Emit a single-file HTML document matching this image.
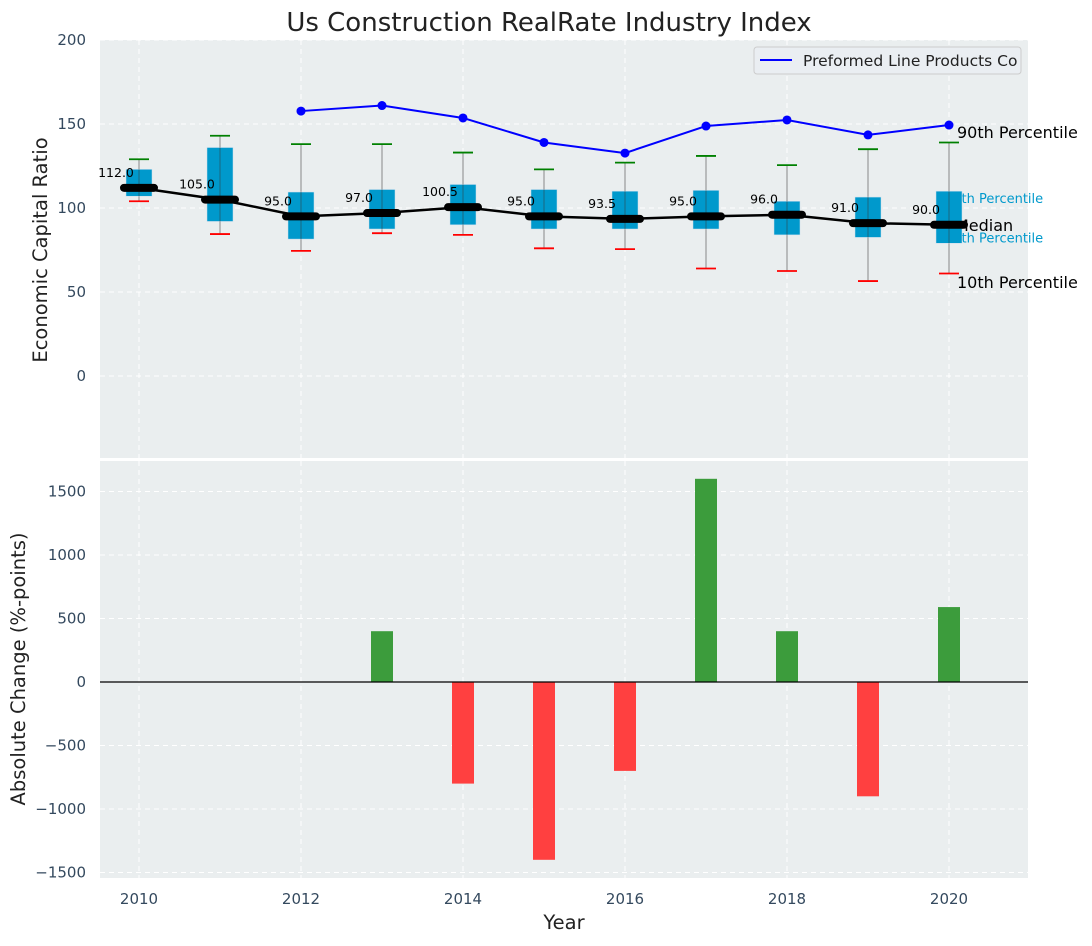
<!DOCTYPE html>
<html><head><meta charset="utf-8"><style>
body{margin:0;background:#fff;font-family:"DejaVu Sans","Liberation Sans",sans-serif;}
svg text{font-family:"DejaVu Sans","Liberation Sans",sans-serif;}
</style></head><body>
<svg id="chart" width="1092" height="942" xmlns="http://www.w3.org/2000/svg">
<text x="549" y="31" text-anchor="middle" font-size="26" fill="#222">Us Construction RealRate Industry Index</text>
<rect x="100" y="40" width="928" height="418" fill="#eaeeef"/>
<rect x="100" y="461" width="928" height="417" fill="#eaeeef"/>
<g id="gtop"></g><g id="gbot"></g>
<text transform="translate(47,250) rotate(-90)" text-anchor="middle" font-size="19.5" fill="#222">Economic Capital Ratio</text>
<text transform="translate(25,669) rotate(-90)" text-anchor="middle" font-size="19.5" fill="#222">Absolute Change (%-points)</text>
<text x="564" y="929" text-anchor="middle" font-size="19.5" fill="#222">Year</text>
<g>
<rect x="754" y="47" width="267" height="27" rx="3" fill="#eaeef2" stroke="#ccc"/>
<line x1="760" y1="60" x2="792" y2="60" stroke="#0000ff" stroke-width="2"/>
<text x="803" y="66" font-size="15.5" fill="#222">Preformed Line Products Co</text>
</g>
</svg>
<script>
const years=[2010,2011,2012,2013,2014,2015,2016,2017,2018,2019,2020];
const median=[112,105,95,97,100.5,95,93.5,95,96,91,90];
const p90=[129,143,138,138,133,123,127,131,125.5,135,139];
const p75=[123,136,109.5,111,114,111,110,110.5,104,106.5,110];
const p25=[107,92,81.5,87.5,90,87.5,87.5,87.5,84,82.5,79];
const p10=[104,84.5,74.5,85,84,76,75.5,64,62.5,56.5,61];
const companyYears=[2012,2013,2014,2015,2016,2017,2018,2019,2020];
const company=[157.7,161,153.6,139,132.7,148.8,152.4,143.5,149.4];
const changeYears=[2013,2014,2015,2016,2017,2018,2019,2020];
const changes=[400,-800,-1400,-700,1600,400,-900,590];
const topTicks=[0,50,100,150,200];
const botTicks=[-1500,-1000,-500,0,500,1000,1500];
const xTicks=[2010,2012,2014,2016,2018,2020];

const NS="http://www.w3.org/2000/svg";
const X=v=>139+(v-2010)*81;
const YT=v=>376-v*84/50;
const YB=v=>682-v*190.5/1500;
const fmt=v=>v<0?'\u2212'+Math.abs(v):String(v);
function mk(p,t,a){const e=document.createElementNS(NS,t);for(const k in a)e.setAttribute(k,a[k]);p.appendChild(e);return e;}
const gT=document.getElementById('gtop'),gB=document.getElementById('gbot');
xTicks.forEach(t=>{
 const g1=mk(gT,'line',{x1:X(t),x2:X(t),y1:40,y2:458,stroke:'#fff','stroke-dasharray':'5,4'});
 
 
 const g2=mk(gB,'line',{x1:X(t),x2:X(t),y1:461,y2:878,stroke:'#fff','stroke-dasharray':'5,4'});
 
 
 const tl=mk(gB,'text',{x:X(t),y:904,'text-anchor':'middle','font-size':15,fill:'#34495e'});tl.textContent=t;
 
 
});
topTicks.forEach(t=>{
 const g=mk(gT,'line',{x1:100,x2:1028,y1:YT(t),y2:YT(t),stroke:'#fff','stroke-dasharray':'5,4'});
 
 
 const tl=mk(gT,'text',{x:86,y:YT(t)+5,'text-anchor':'end','font-size':15,fill:'#34495e'});tl.textContent=fmt(t);
 
 
});
botTicks.forEach(t=>{
 const g=mk(gB,'line',{x1:100,x2:1028,y1:YB(t),y2:YB(t),stroke:'#fff','stroke-dasharray':'5,4'});
 
 
 const tl=mk(gB,'text',{x:86,y:YB(t)+5,'text-anchor':'end','font-size':15,fill:'#34495e'});tl.textContent=fmt(t);
 
 
});
const n=years.length-1;
const sideVals=[p90[n],p75[n],median[n],p25[n],p10[n]];
const sideText=['90th Percentile','75th Percentile','Median','25th Percentile','10th Percentile'];
const sideSize=[16,13,16,13,16];
const sideCol=['#000','#0099cc','#000','#0099cc','#000'];
const sideDy=[-4.5,12,6,-1,14.5];
const sideDx=[8,-4,6,-4,8];
sideVals.forEach((v,i)=>{
 const t=mk(gT,'text',{x:X(years[n])+sideDx[i],y:YT(v)+sideDy[i],'font-size':sideSize[i],fill:sideCol[i]});t.textContent=sideText[i];
 
 
});
years.forEach((y,i)=>{
 const x=X(y);
 const w=mk(gT,'line',{x1:x,x2:x,y1:YT(p90[i]),y2:YT(p10[i]),stroke:'#888','stroke-width':1});
 
 
 const b=mk(gT,'rect',{x:x-13,y:YT(p75[i]),width:26,height:YT(p25[i])-YT(p75[i]),fill:'#0099cc',stroke:'#cde','stroke-width':0.5});
 
 
 mk(gT,'line',{x1:x,x2:x,y1:YT(p75[i]),y2:YT(p25[i]),stroke:'#333','stroke-opacity':0.5});
 const c1=mk(gT,'line',{x1:x-10,x2:x+10,y1:YT(p90[i]),y2:YT(p90[i]),stroke:'#008000','stroke-width':1.8});
 
 
 const c2=mk(gT,'line',{x1:x-10,x2:x+10,y1:YT(p10[i]),y2:YT(p10[i]),stroke:'#ff0000','stroke-width':1.8});
 
 
});
const ml=mk(gT,'polyline',{points:years.map((y,i)=>X(y)+','+YT(median[i])).join(' '),fill:'none',stroke:'#000','stroke-width':2.5});


years.forEach((y,i)=>{
 const m=mk(gT,'line',{x1:X(y)-15,x2:X(y)+15,y1:YT(median[i]),y2:YT(median[i]),stroke:'#000','stroke-width':8,'stroke-linecap':'round'});
 
 
 const t=mk(gT,'text',{x:X(y)-23,y:YT(median[i])-11,'text-anchor':'middle','font-size':12.5,fill:'#000'});t.textContent=median[i].toFixed(1);
 
 
});
const cl=mk(gT,'polyline',{points:companyYears.map((y,i)=>X(y)+','+YT(company[i])).join(' '),fill:'none',stroke:'#0000ff','stroke-width':2});


companyYears.forEach((y,i)=>{
 const c=mk(gT,'circle',{cx:X(y),cy:YT(company[i]),r:4.5,fill:'#0000ff'});
 
 
});
changeYears.forEach((y,i)=>{
 const v=changes[i];
 const r=mk(gB,'rect',{x:X(y)-11,y:Math.min(YB(v),YB(0)),width:22,height:Math.abs(YB(v)-YB(0)),fill:v>=0?'#3c9c3c':'#ff4040'});
 
 
});
const z=mk(gB,'line',{x1:100,x2:1028,y1:YB(0),y2:YB(0),stroke:'#000','stroke-width':1.2});


</script>
</body></html>
